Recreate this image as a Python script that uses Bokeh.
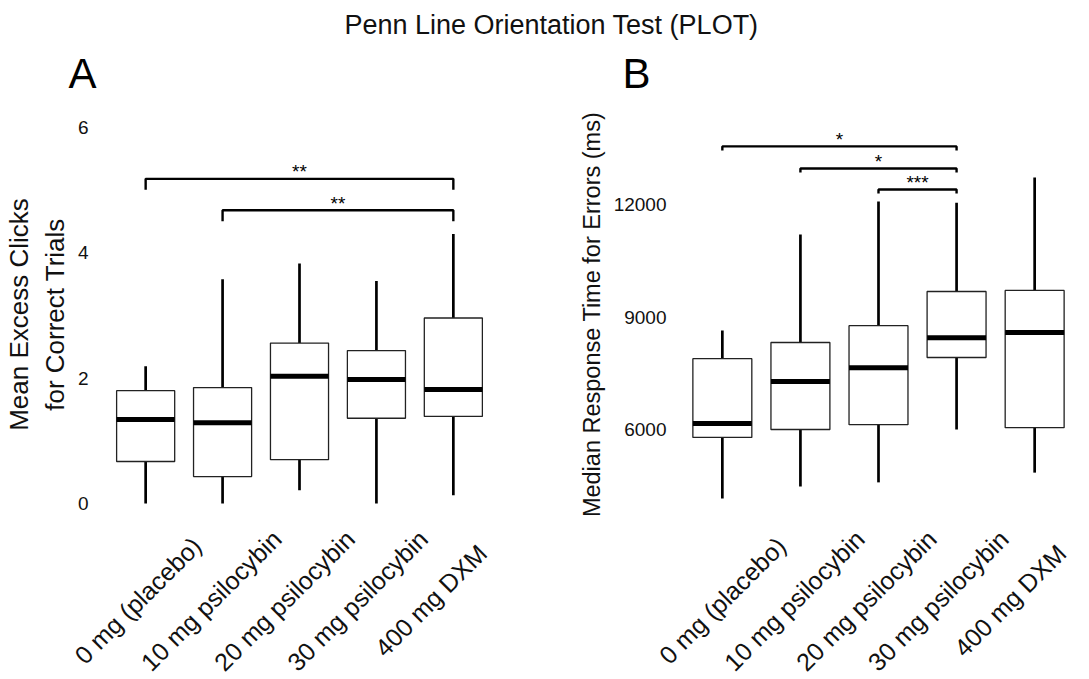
import math
import numpy as np
from bokeh.plotting import figure
from bokeh.models import Label, Range1d, FixedTicker, ColumnDataSource
from bokeh.layouts import column, row
from bokeh.embed import file_html
from bokeh.resources import INLINE

# ---------------- data ----------------
categories = ["0 mg (placebo)", "10 mg psilocybin", "20 mg psilocybin",
              "30 mg psilocybin", "400 mg DXM"]

# Panel A: Mean Excess Clicks for Correct Trials
a_low = [0.00, 0.00, 0.21, 0.00, 0.13]
a_q1 = [0.67, 0.43, 0.70, 1.36, 1.39]
a_med = [1.34, 1.29, 2.03, 1.98, 1.82]
a_q3 = [1.80, 1.85, 2.56, 2.44, 2.96]
a_high = [2.19, 3.58, 3.83, 3.55, 4.30]
a_ticks = [0, 2, 4, 6]
a_pairs = [(1, 5), (2, 5)]
a_heights = [5.18, 4.68]
a_stars = ["**", "**"]

# Panel B: Median Response Time for Errors (ms)
b_low = [4160, 4480, 4590, 6000, 4850]
b_q1 = [5790, 6000, 6130, 7920, 6050]
b_med = [6160, 7280, 7650, 8450, 8590]
b_q3 = [7890, 8320, 8770, 9680, 9710]
b_high = [8640, 11200, 12080, 12050, 12720]
b_ticks = [6000, 9000, 12000]
b_pairs = [(1, 4), (2, 4), (3, 4)]
b_heights = [13550, 12960, 12400]
b_stars = ["*", "*", "***"]

FONT = "Liberation Sans"
TXT = "#111111"
BOX_W = 0.755
XR0, XR1 = 0.4, 5.6

# page layout (pixels)
TITLE_H = 108         # title + panel letters, page 0..108
FRAME_TOP = 108       # panels, page 108..520
FRAME_BOT = 520
STRIP_H = 156         # x category labels, page 520..676
TOTAL_W = 1081


def panel(width, bl, br, zero_page, zero_val, px_per_unit, ticks,
          standoff, low, q1, med, q3, high, pairs, heights, stars, tick_px,
          ylabel, ylabel_size, ylabel_standoff):
    y1 = zero_val + (zero_page - FRAME_TOP) / px_per_unit
    y0 = zero_val - (FRAME_BOT - zero_page) / px_per_unit
    p = figure(width=width, height=FRAME_BOT - FRAME_TOP,
               output_backend="svg", toolbar_location=None,
               x_axis_location=None,
               x_range=Range1d(XR0, XR1), y_range=Range1d(y0, y1),
               min_border_left=bl, min_border_right=br,
               min_border_top=0, min_border_bottom=0)
    p.outline_line_color = None
    p.grid.visible = False

    ax = p.yaxis[0]
    ax.ticker = FixedTicker(ticks=ticks)
    ax.axis_line_color = None
    ax.major_tick_line_color = None
    ax.minor_tick_line_color = None
    ax.major_tick_out = 0
    ax.major_tick_in = 0
    ax.major_label_standoff = standoff
    ax.major_label_text_font = FONT
    ax.major_label_text_font_size = "19px"
    ax.major_label_text_color = TXT
    ax.axis_label = ylabel
    ax.axis_label_text_font = FONT
    ax.axis_label_text_font_size = ylabel_size
    ax.axis_label_text_font_style = "normal"
    ax.axis_label_text_color = TXT
    ax.axis_label_standoff = ylabel_standoff

    xs = np.arange(1, len(categories) + 1, dtype=float)
    src = ColumnDataSource(dict(x=xs, x0=xs - BOX_W / 2, x1=xs + BOX_W / 2,
                                low=low, q1=q1, med=med, q3=q3, high=high))
    p.segment(x0="x", y0="low", x1="x", y1="q1", source=src,
              line_color="black", line_width=2.7)
    p.segment(x0="x", y0="q3", x1="x", y1="high", source=src,
              line_color="black", line_width=2.7)
    p.vbar(x="x", width=BOX_W, bottom="q1", top="q3", source=src,
           fill_color="white", line_color="#222222", line_width=1.3)
    p.segment(x0="x0", y0="med", x1="x1", y1="med", source=src,
              line_color="black", line_width=5)

    tick_d = tick_px / px_per_unit
    bxs, bys = [], []
    for (g1, g2), h in zip(pairs, heights):
        bxs.append([g1, g1, g2, g2])
        bys.append([h - tick_d, h, h, h - tick_d])
    p.multi_line(xs=bxs, ys=bys, line_color="black", line_width=2.4)
    for (g1, g2), h, s in zip(pairs, heights, stars):
        p.add_layout(Label(x=(g1 + g2) / 2, y=h + 7 / px_per_unit, text=s,
                           text_align="center", text_baseline="alphabetic",
                           text_font=FONT, text_font_size="19px",
                           text_color="black"))
    return p


def strip(width, bl, br, first_shift_px, label_step_px):
    pxx = (width - bl - br) / (XR1 - XR0)
    s = figure(width=width, height=STRIP_H, output_backend="svg",
               toolbar_location=None, x_axis_location=None,
               y_axis_location=None,
               x_range=Range1d(XR0 - bl / pxx, XR1 + br / pxx),
               y_range=Range1d(0, STRIP_H), min_border=0)
    s.outline_line_color = None
    s.grid.visible = False
    label_y = FRAME_BOT + STRIP_H - 600   # centre of labels at page y 600
    for i, c in enumerate(categories):
        xc = 1 + (first_shift_px + i * label_step_px) / pxx
        s.add_layout(Label(x=xc, y=label_y, text=c, angle=math.pi / 4,
                           text_align="center", text_baseline="middle",
                           text_font=FONT, text_font_size="25px",
                           text_color=TXT))
    return s


pA = panel(548, 97, 49, 503, 0, 62.67, a_ticks, 11,
           a_low, a_q1, a_med, a_q3, a_high, a_pairs, a_heights, a_stars, 11,
           "Mean Excess Clicks\nfor Correct Trials", "26px", 5)
pB = panel(533, 127, 0, 429, 6000, 0.0375, b_ticks, 9,
           b_low, b_q1, b_med, b_q3, b_high, b_pairs, b_heights, b_stars, 4,
           "Median Response Time for Errors (ms)", "23.5px", 6)

sA = strip(548, 97, 49, -6, 73.2)
sB = strip(533, 127, 0, 0, 71.9)

# overall title and panel letters
pt = figure(width=TOTAL_W, height=TITLE_H, output_backend="svg",
            toolbar_location=None, x_axis_location=None, y_axis_location=None,
            x_range=Range1d(0, TOTAL_W), y_range=Range1d(0, TITLE_H),
            min_border=0)
pt.outline_line_color = None
pt.grid.visible = False
pt.add_layout(Label(x=551, y=TITLE_H - 24,
                    text="Penn Line Orientation Test (PLOT)",
                    text_align="center", text_baseline="alphabetic",
                    text_font=FONT, text_font_size="27px", text_color=TXT))
for letter, lx in (("A", 68), ("B", 622)):
    pt.add_layout(Label(x=lx, y=TITLE_H - 73, text=letter,
                        text_align="left", text_baseline="alphabetic",
                        text_font=FONT, text_font_size="42px",
                        text_color="black"))

layout = column(pt, row(pA, pB), row(sA, sB))
open("out.html", "w").write(file_html(layout, INLINE))
